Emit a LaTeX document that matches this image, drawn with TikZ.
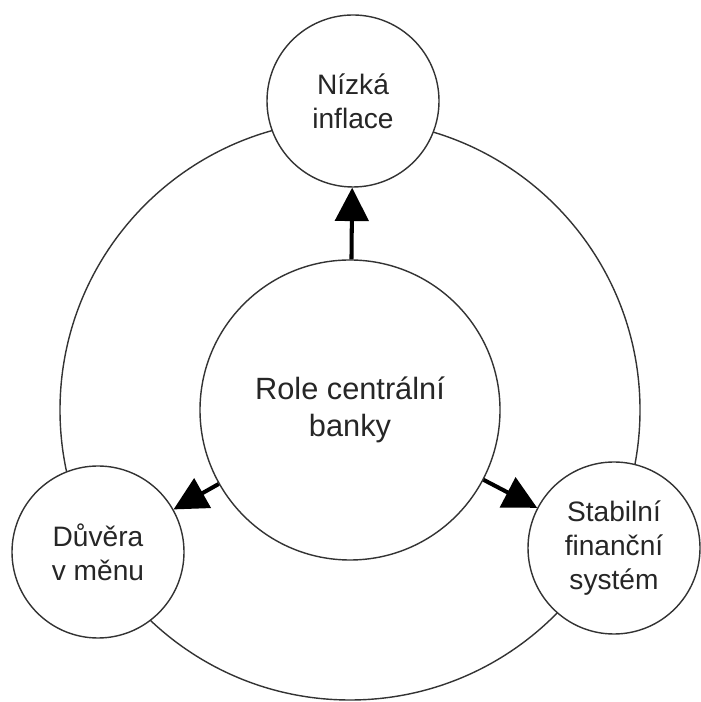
\documentclass[tikz,border=0pt]{standalone}
\usepackage{fontspec}
\setmainfont{Liberation Sans}
\usetikzlibrary{arrows.meta}
\tikzstyle{cil} = [circle, draw=black!80, line width=0.8pt, fill=white, minimum size=3.44cm, inner sep=0pt, align=center, font=\fontsize{16}{19.5}\selectfont, text=black!85]
\tikzstyle{role} = [circle, draw=black!80, line width=0.8pt, fill=white, minimum size=6cm, inner sep=0pt, align=center, font=\fontsize{17.5}{21}\selectfont, text=black!85]
\tikzstyle{vliv} = [line width=2.3pt, black, -{Triangle[length=19pt,width=19pt]}]

\begin{document}
\begin{tikzpicture}
			\useasboundingbox (0,0) rectangle (14,14.04);
			\coordinate (stred) at (7,5.84);
			\draw[line width=0.8pt,black!80] (stred) circle (5.8);
			\node[role] (banka) at (stred) {Role centrální\\banky};
			\node[cil] (nizka) at (7.06,12.02) {Nízká\\inflace};
			\node[cil] (duvera) at (1.96,3.0) {Důvěra\\v měnu};
			\node[cil] (stabilni) at (12.28,3.08) {Stabilní\\finanční\\systém};
			\draw[vliv] (banka) -- (nizka);
			\draw[vliv] (banka) -- (duvera);
			\draw[vliv] (banka) -- (stabilni);
		\end{tikzpicture}
\end{document}
